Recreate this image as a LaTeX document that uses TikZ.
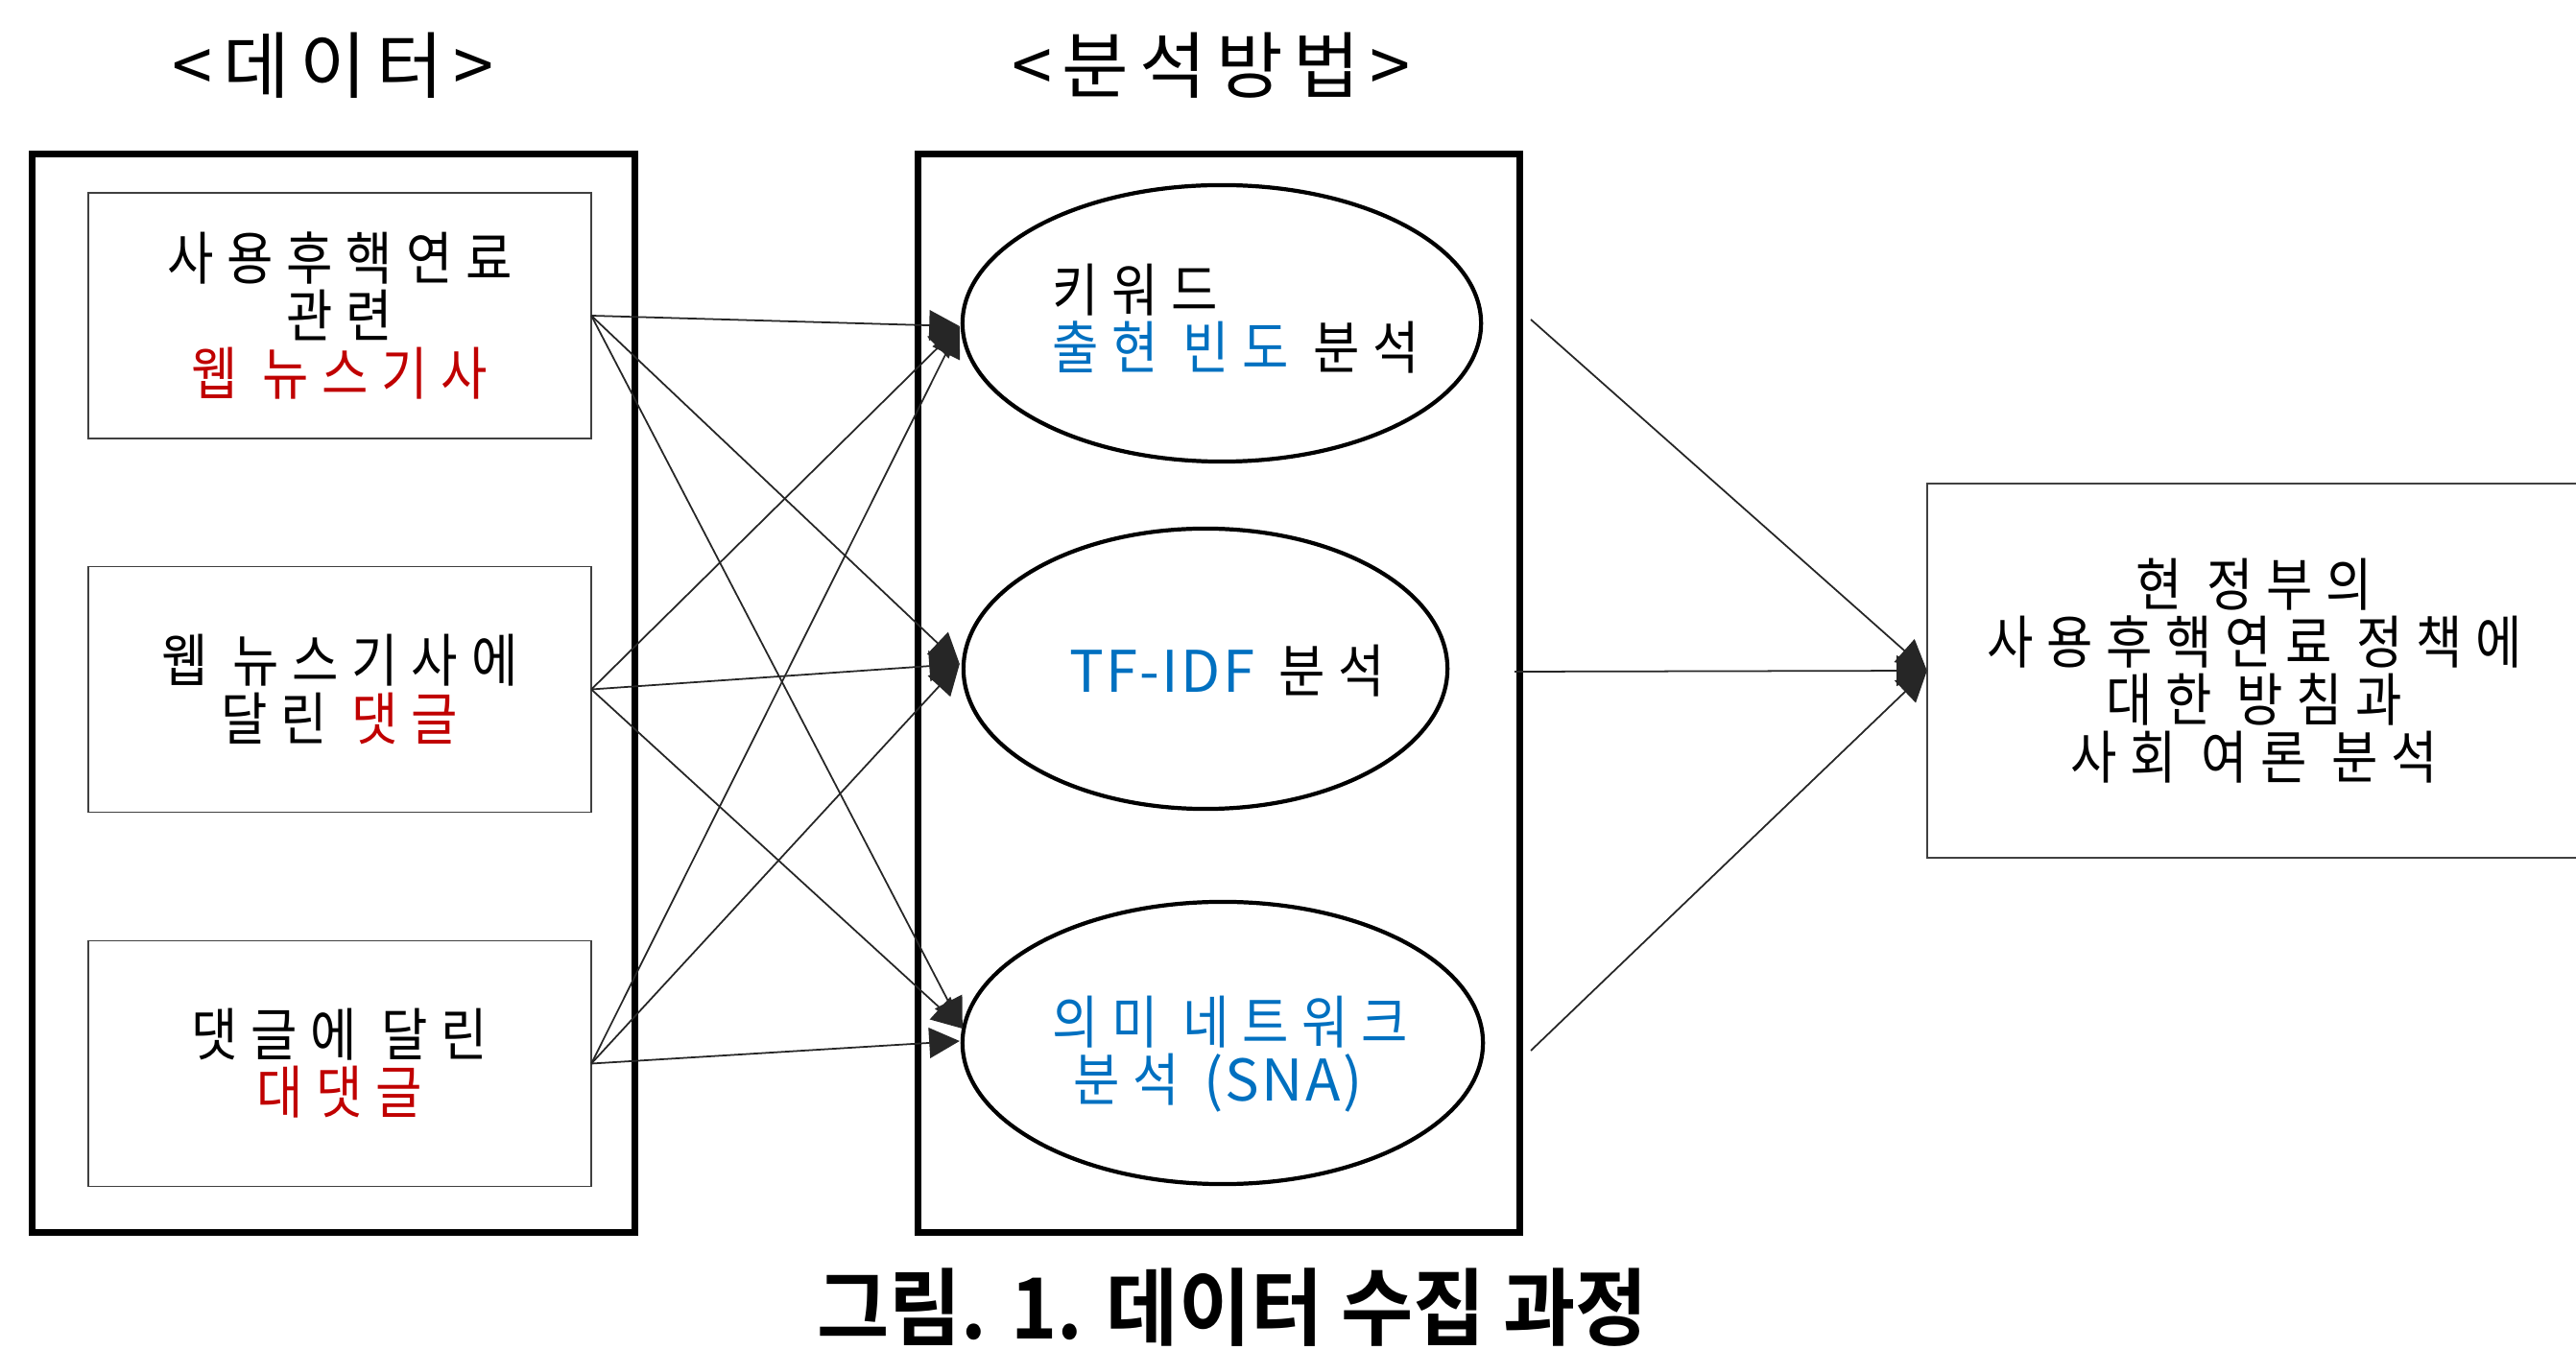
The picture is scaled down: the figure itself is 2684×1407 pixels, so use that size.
\documentclass[tikz,border=0pt]{standalone}
\usepackage{fontspec}
\usetikzlibrary{shapes.geometric,arrows.meta}
\setmainfont{Noto Sans CJK KR}
\newfontfamily\bodyfont[FakeStretch=0.88,LetterSpace=23]{Noto Sans CJK KR}
\newfontfamily\latinfont[LetterSpace=4]{Noto Sans CJK KR}
\newfontfamily\headfont[LetterSpace=14]{Noto Sans CJK KR}
\newfontfamily\titlefont[FakeStretch=0.93]{Noto Sans CJK KR Bold}
\newcommand\bodytext{\bodyfont\fontsize{17pt}{17.1pt}\selectfont}
\newcommand\lat[1]{{\latinfont #1}}
\definecolor{krred}{RGB}{192,0,0}
\definecolor{krblue}{RGB}{0,112,192}
\begin{document}
\begin{tikzpicture}[x=0.01cm,y=-0.01cm,
  bigbox/.style={draw=black,line width=1.9pt,inner sep=0pt,outer sep=0pt,minimum width=6.27cm,minimum height=11.23cm},
  smallbox/.style={draw=black!75,line width=0.45pt,inner sep=0pt,outer sep=0pt,minimum width=5.24cm,minimum height=2.56cm,align=center,font=\bodytext},
  oval/.style={ellipse,draw=black,line width=1.2pt,inner sep=0pt,outer sep=0pt},
  lbl/.style={inner sep=0pt,outer sep=0pt,font=\bodytext},
  headlbl/.style={inner sep=0pt,font=\headfont\fontsize{21.5pt}{24pt}\selectfont},
  rbox/.style={draw=black!75,line width=0.6pt,inner sep=0pt,outer sep=0pt,minimum width=6.82cm,minimum height=3.90cm,align=center,font=\bodytext},
  arr/.style={-{Triangle[length=9pt,width=9pt]},line width=0.5pt,draw=black!85}]
\fill[white] (0,0) rectangle (2684,1407);
\useasboundingbox (0,0) rectangle (2684,1407);

% headers
\node[headlbl,anchor=base] (h1) at (347,97) {<데이터>};
\node[headlbl,anchor=base] (h2) at (1262,97) {<분석방법>};

% big frames
\node[bigbox] (L) at (347.5,722.5) {};
\node[bigbox,minimum width=6.26cm] (M) at (1270,722.5) {};

% data boxes
\node[smallbox] (b1) at (354,329) {사용후핵연료\\관련\\\textcolor{krred}{웹 뉴스기사}};
\node[smallbox] (b2) at (354,718.5) {웹 뉴스기사에\\달린 \textcolor{krred}{댓글}};
\node[smallbox] (b3) at (354,1108.5) {댓글에 달린\\\textcolor{krred}{대댓글}};

% analysis ellipses
\node[oval,minimum width=5.40cm,minimum height=2.88cm] (e1) at (1273,337) {};
\node[oval,minimum width=5.04cm,minimum height=2.92cm] (e2) at (1256,697) {};
\node[oval,minimum width=5.42cm,minimum height=2.94cm] (e3) at (1274,1087) {};

\node[lbl,anchor=base west] (t1a) at (1096,325) {키워드};
\node[lbl,anchor=base west] (t1b) at (1096,385) {\textcolor{krblue}{출현 빈도} 분석};
\node[lbl,anchor=base west] (t2) at (1114,722) {\textcolor{krblue}{\lat{TF-IDF}} 분석};
\node[lbl,anchor=base west] (t3a) at (1096,1088) {\textcolor{krblue}{의미 네트워크}};
\node[lbl,anchor=base west] (t3b) at (1118,1148) {\textcolor{krblue}{분석 \lat{(SNA)}}};

% result box
\node[rbox] (R) at (2349,699) {현 정부의\\사용후핵연료 정책에\\대한 방침과\\사회 여론 분석};

% connectors data -> methods
\draw[arr] (b1.east) -- ([shift={(-3,3)}]e1.west);
\draw[arr] (b1.east) -- ([shift={(-4,-5)}]e2.west);
\draw[arr] (b1.east) -- ([shift={(0,-15)}]e3.west);
\draw[arr] (b2.east) -- ([shift={(-3,3)}]e1.west);
\draw[arr] (b2.east) -- ([shift={(-4,-5)}]e2.west);
\draw[arr] (b2.east) -- ([shift={(0,-15)}]e3.west);
\draw[arr] (b3.east) -- ([shift={(-3,3)}]e1.west);
\draw[arr] (b3.east) -- ([shift={(-4,-5)}]e2.west);
\draw[arr] (b3.east) -- ([shift={(-3,-2)}]e3.west);

% connectors methods -> result
\coordinate (s1) at (1595,333);
\coordinate (s2) at (1578,700);
\coordinate (s3) at (1595,1095);
\draw[arr] (s1) -- (R.west);
\draw[arr] (s2) -- (R.west);
\draw[arr] (s3) -- (R.west);

% caption
\node[anchor=base,inner sep=0pt] (cap) at (1284,1395) {\titlefont\fontsize{25pt}{28pt}\selectfont 그림. 1. 데이터 수집 과정};
\end{tikzpicture}
\end{document}
